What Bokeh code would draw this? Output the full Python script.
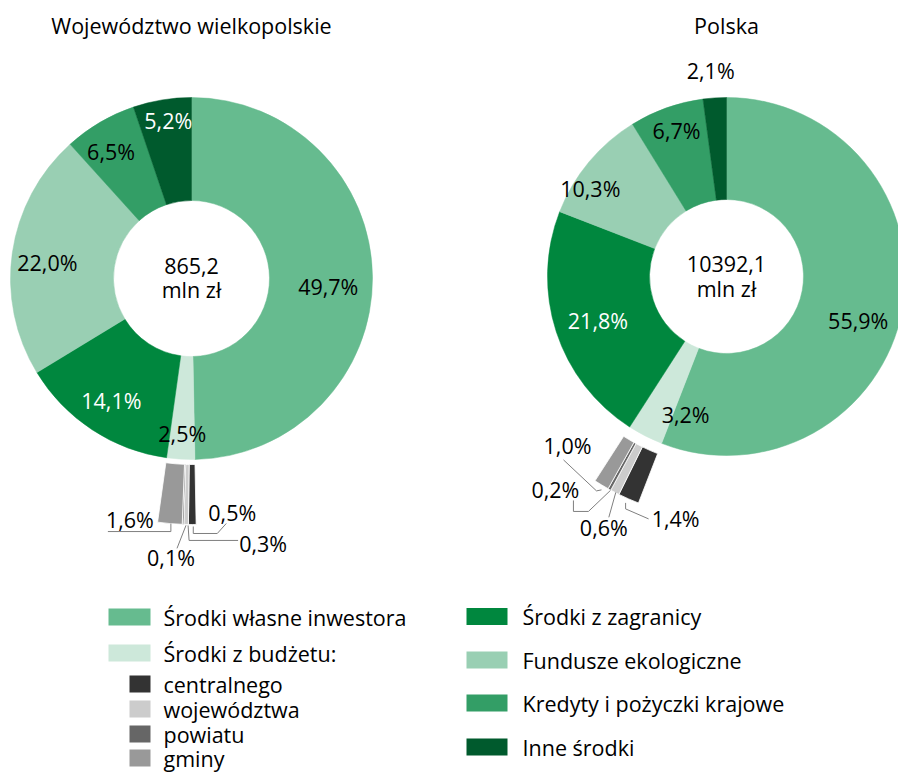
import math
from bokeh.plotting import figure
from bokeh.models import Range1d, ColumnDataSource
from bokeh.core.properties import value
from bokeh.embed import file_html
from bokeh.resources import INLINE

# ---------------- data ----------------
categories = ["Środki własne inwestora", "Środki z budżetu:", "Środki z zagranicy",
              "Fundusze ekologiczne", "Kredyty i pożyczki krajowe", "Inne środki"]
budget_categories = ["centralnego", "województwa", "powiatu", "gminy"]
wlkp_values = [49.7, 2.5, 14.1, 22.0, 6.5, 5.2]
wlkp_budget = [0.5, 0.3, 0.1, 1.6]
pl_values = [55.9, 3.2, 21.8, 10.3, 6.7, 2.1]
pl_budget = [1.4, 0.6, 0.2, 1.0]
titles = ["Województwo wielkopolskie", "Polska"]
totals = ["865,2", "10392,1"]
unit = "mln zł"

# ---------------- style ----------------
colors = ["#66bb8f", "#cde8da", "#00873e", "#99cfb3", "#339e66", "#005a2d"]
budget_colors = ["#333333", "#cccccc", "#666666", "#999999"]
FONT = value("Open Sans")
FS = "21.5px"

W, H = 898, 773


def X(px):
    return px


def Y(py):
    return H - py


def fmt(v):
    return f"{v:.1f}".replace(".", ",") + "%"


charts = [
    dict(title=titles[0], values=wlkp_values, budget=wlkp_budget, total=totals[0],
         cx=191, cy=278, r_out=181, r_in=78, sub_in=186, sub_out=246, title_y=25,
         tot_y=(265, 289),
         label_r=[137, 155, 146, 145, 150, 160],
         label_dt=[4, 0, 0, -2, -2, 1],
         label_col=["black", "black", "white", "black", "black", "white"],
         leaders=[[(1, 2), (1, 9), (25, 9), (34, -1)],
                  [(2, 1), (3, 16), (52, 16)],
                  [(3, 1), (-6, 24)],
                  [(1, 0), (1, 8), (-62, 8)]],
         sub_lab=[(40, -12), (77, 19), (-12, 33), (-40, -4)]),
    dict(title=titles[1], values=pl_values, budget=pl_budget, total=totals[1],
         cx=726, cy=276, r_out=179, r_in=77, sub_in=190, sub_out=243, title_y=25,
         tot_y=(263, 288),
         label_r=[139, 144, 136, 162, 154, 207],
         label_dt=[8, -10.5, -1, -7, 0.7, -0.6],
         label_col=["black", "black", "white", "black", "black", "black"],
         leaders=[[(-3, 4), (-3, 10), (20, 20)],
                  [(1, 0), (-6, 25)],
                  [(1, 1), (-21, 22), (-36, 22), (-36, 11)],
                  [(0, 5), (-5, 6), (-38, -25)]],
         sub_lab=[(47, 20), (-11, 35), (-54, 0), (-34, -39)]),
]

p = figure(width=W, height=H, x_range=Range1d(0, W), y_range=Range1d(0, H),
           x_axis_type=None, y_axis_type=None, toolbar_location=None,
           output_backend="svg", min_border=0, outline_line_color=None)
p.grid.visible = False
p.background_fill_color = "white"
p.border_fill_color = "white"


def polar(c, theta_deg, r):
    t = math.radians(theta_deg)
    return c["cx"] + r * math.sin(t), c["cy"] - r * math.cos(t)


for c in charts:
    vals = c["values"]
    cum = [0.0]
    for v in vals:
        cum.append(cum[-1] + v)
    src = ColumnDataSource(dict(
        start=[math.pi / 2 - 2 * math.pi * cum[i] / 100 for i in range(len(vals))],
        end=[math.pi / 2 - 2 * math.pi * cum[i + 1] / 100 for i in range(len(vals))],
        color=colors,
    ))
    p.annular_wedge(x=X(c["cx"]), y=Y(c["cy"]), inner_radius=c["r_in"], outer_radius=c["r_out"],
                    start_angle="start", end_angle="end", direction="clock",
                    fill_color="color", line_color="color", line_width=0.5, source=src)

    # labels on the ring
    lx, ly, lt, lc = [], [], [], []
    for i, v in enumerate(vals):
        mid = (cum[i] + cum[i + 1]) / 2 * 3.6 + c["label_dt"][i]
        px, py = polar(c, mid, c["label_r"][i])
        lx.append(X(px)); ly.append(Y(py)); lt.append(fmt(v)); lc.append(c["label_col"][i])
    p.text(x=lx, y=ly, text=lt, text_color=lc, text_font=FONT, text_font_size=FS,
           text_align="center", text_baseline="middle")

    # exploded budget breakdown (starts where the budget slice starts)
    bcum = [cum[1]]
    for v in c["budget"]:
        bcum.append(bcum[-1] + v)
    bsrc = ColumnDataSource(dict(
        start=[math.pi / 2 - 2 * math.pi * bcum[i] / 100 for i in range(len(c["budget"]))],
        end=[math.pi / 2 - 2 * math.pi * bcum[i + 1] / 100 for i in range(len(c["budget"]))],
        color=budget_colors,
    ))
    p.annular_wedge(x=X(c["cx"]), y=Y(c["cy"]), inner_radius=c["sub_in"], outer_radius=c["sub_out"],
                    start_angle="start", end_angle="end", direction="clock",
                    fill_color="color", line_color="white", line_width=0.8, source=bsrc)

    sx, sy, st = [], [], []
    for i, v in enumerate(c["budget"]):
        mid = (bcum[i] + bcum[i + 1]) / 2 * 3.6
        ax, ay = polar(c, mid, c["sub_out"])
        pts = c["leaders"][i]
        p.line(x=[X(ax + dx) for dx, dy in pts], y=[Y(ay + dy) for dx, dy in pts],
               line_color="#7f7f7f", line_width=1)
        ox, oy = c["sub_lab"][i]
        sx.append(X(ax + ox)); sy.append(Y(ay + oy)); st.append(fmt(v))
    p.text(x=sx, y=sy, text=st, text_color="black", text_font=FONT, text_font_size=FS,
           text_align="center", text_baseline="middle")

    # title and centre total
    p.text(x=[X(c["cx"])], y=[Y(c["title_y"])], text=[c["title"]], text_font=FONT,
           text_font_size=FS, text_align="center", text_baseline="middle", text_color="black")
    p.text(x=[X(c["cx"]), X(c["cx"])], y=[Y(c["tot_y"][0]), Y(c["tot_y"][1])],
           text=[c["total"], unit], text_font=FONT, text_font_size=FS,
           text_align="center", text_baseline="middle", text_color="black")

# ---------------- legend ----------------
left_rows = [616.5, 652.5]
sub_rows = [683.5, 708.5, 733.5, 757.5]
right_rows = [616, 659.5, 702.5, 746.5]

lg_x, lg_y, lg_w, lg_c = [], [], [], []
tx, ty, tt = [], [], []
for i, yy in enumerate(left_rows):
    lg_x.append(X(129)); lg_y.append(Y(yy)); lg_w.append(42); lg_c.append(colors[i])
    tx.append(X(163)); ty.append(Y(yy)); tt.append(categories[i])
for i, yy in enumerate(sub_rows):
    lg_x.append(X(139.5)); lg_y.append(Y(yy)); lg_w.append(21); lg_c.append(budget_colors[i])
    tx.append(X(163)); ty.append(Y(yy)); tt.append(budget_categories[i])
for i, yy in enumerate(right_rows):
    lg_x.append(X(486.5)); lg_y.append(Y(yy)); lg_w.append(41); lg_c.append(colors[i + 2])
    tx.append(X(522)); ty.append(Y(yy)); tt.append(categories[i + 2])
p.rect(x=lg_x, y=lg_y, width=lg_w, height=17, fill_color=lg_c, line_color=None)
p.text(x=tx, y=ty, text=tt, text_font=FONT, text_font_size=FS, text_align="left",
       text_baseline="middle", text_color="black")

open("out.html", "w").write(file_html(p, INLINE))
